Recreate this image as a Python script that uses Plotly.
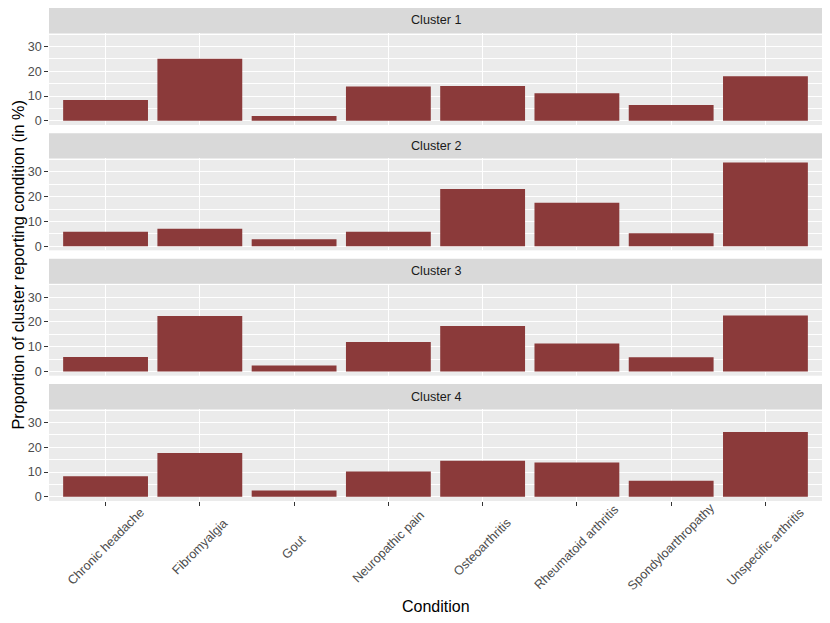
import plotly.graph_objects as go
from plotly.subplots import make_subplots

conditions = ["Chronic headache", "Fibromyalgia", "Gout", "Neuropathic pain",
              "Osteoarthritis", "Rheumatoid arthritis", "Spondyloarthropathy",
              "Unspecific arthritis"]
clusters = ["Cluster 1", "Cluster 2", "Cluster 3", "Cluster 4"]
cluster1 = [8.4, 25.1, 1.9, 13.9, 14.1, 11.1, 6.4, 18.0]
cluster2 = [5.8, 7.0, 2.8, 5.8, 23.1, 17.5, 5.2, 33.8]
cluster3 = [5.9, 22.4, 2.4, 11.9, 18.4, 11.3, 5.8, 22.6]
cluster4 = [8.3, 17.7, 2.6, 10.2, 14.6, 13.9, 6.5, 26.2]
values = [cluster1, cluster2, cluster3, cluster4]
y_ticks = [0, 10, 20, 30]

# page body has an 8px margin, so the figure is 8px smaller than the window
OFF = 8
W, H = 830 - OFF, 623 - OFF
# reference-pixel layout
L_REF, R_REF, T_REF, B_REF = 49, 822, 8, 501
ML, MR, MT, MB = L_REF - OFF, (830 - R_REF), T_REF - OFF, (623 - B_REF)
PH = B_REF - T_REF
PW = R_REF - L_REF
STRIP = 25
PANEL = 92
GAP = (PH - 4 * (STRIP + PANEL)) / 3

def py(ref_y):
    return (B_REF - ref_y) / PH

def px(ref_x):
    return (ref_x - L_REF) / PW

fig = make_subplots(rows=4, cols=1)

bar_color = "#8B3A3A"
ymax = max(max(v) for v in values)
yr = [-0.05 * ymax, ymax * 1.05]

for i, (name, vals) in enumerate(zip(clusters, values)):
    top = T_REF + i * (STRIP + PANEL + GAP)
    strip_bot = top + STRIP
    panel_bot = strip_bot + PANEL
    fig.add_trace(go.Bar(x=conditions, y=vals, marker_color=bar_color,
                         marker_line_width=0, width=0.9, showlegend=False),
                  row=i + 1, col=1)
    ya = "yaxis" if i == 0 else f"yaxis{i+1}"
    xa = "xaxis" if i == 0 else f"xaxis{i+1}"
    fig.layout[ya].update(domain=[py(panel_bot), py(strip_bot)])
    fig.layout[xa].update(domain=[0, 1])
    fig.add_shape(type="rect", xref="paper", yref="paper", x0=0, x1=1,
                  y0=py(strip_bot), y1=py(top), fillcolor="#D9D9D9",
                  line_width=0, layer="below")
    fig.add_annotation(text=name, xref="paper", yref="paper", x=0.5,
                       y=py(top + STRIP / 2), showarrow=False,
                       font=dict(size=12.6, color="#1A1A1A"),
                       xanchor="center", yanchor="middle")

fig.update_xaxes(type="category", range=[-0.6, len(conditions) - 0.4],
                 showgrid=True, gridcolor="white", gridwidth=1.1,
                 zeroline=False, showline=False, automargin=False,
                 ticks="", showticklabels=False, fixedrange=True)
fig.update_xaxes(ticks="outside", ticklen=3.7, tickcolor="#333333",
                 tickwidth=1, row=4, col=1)

# rotated category labels, centred under each tick (ggplot angle=45 style)
for c in conditions:
    fig.add_annotation(text=c, xref="x4", yref="paper", x=c, y=py(547),
                       textangle=-45, showarrow=False,
                       font=dict(size=12.6, color="#4D4D4D"),
                       xanchor="center", yanchor="middle")

fig.update_yaxes(range=yr, tickvals=y_ticks, showgrid=True, gridcolor="white",
                 gridwidth=1.1, zeroline=False, showline=False, automargin=False,
                 ticks="outside", ticklen=3.7, tickcolor="#333333", tickwidth=1,
                 tickfont=dict(size=12.6, color="#4D4D4D"),
                 minor=dict(tickvals=[5, 15, 25, 35], showgrid=True,
                            gridcolor="white", gridwidth=0.55, ticks=""))

fig.add_annotation(text="Proportion of cluster reporting condition (in %)",
                   xref="paper", yref="paper", x=px(17.5), y=py(265),
                   textangle=-90, showarrow=False, borderpad=0,
                   font=dict(size=16.2, color="black"),
                   xanchor="center", yanchor="middle")
fig.add_annotation(text="Condition", xref="paper", yref="paper", x=0.5,
                   y=py(606), showarrow=False,
                   font=dict(size=16, color="black"),
                   xanchor="center", yanchor="middle")

fig.update_layout(width=W, height=H, margin=dict(l=ML, r=MR, t=MT, b=MB),
                  paper_bgcolor="white", plot_bgcolor="#EBEBEB",
                  font=dict(family="Liberation Sans, Arial, sans-serif"),
                  bargap=0.1)

fig.write_html("out.html")
